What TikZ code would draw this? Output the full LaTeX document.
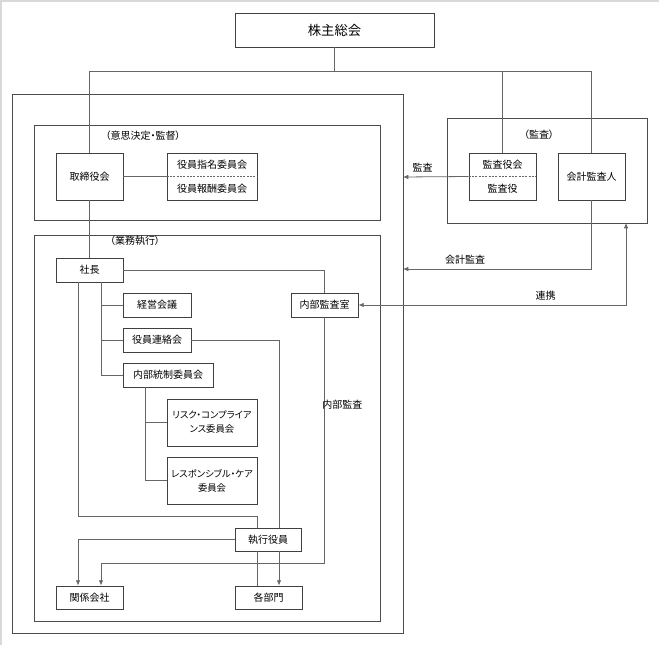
\documentclass[tikz,border=0pt]{standalone}
\usepackage{fontspec}
\setmainfont{Noto Sans CJK JP}[RawFeature=+palt]
\usetikzlibrary{arrows.meta,calc}
\begin{document}
\begin{tikzpicture}[x=0.75pt,y=-0.75pt,
  sm/.style={font=\fontsize{7.5}{10.5}\selectfont},
  box/.style={draw=black!75, line width=0.6pt, fill=white, inner sep=0pt, sm, align=center},
  wh/.style n args={2}{minimum width=#1*0.75pt, minimum height=#2*0.75pt},
  frame/.style={draw=black!70, line width=0.6pt},
  conn/.style={draw=black!60, line width=0.6pt},
  tip/.tip={Latex[length=4pt,width=3.4pt]},
  arr/.style={conn, -tip},
  lbl/.style={sm, inner sep=0pt}
]
\useasboundingbox (0,0) rectangle (659,645);
\draw[black!15, line width=1.2pt] (0.8,645) -- (0.8,0.8) -- (659,0.8);

% frames
\draw[frame] (12,94) rectangle (403,633);
\draw[frame] (34,125) rectangle (380,220);
\draw[frame] (34,235) rectangle (380,621);
\draw[frame] (447,118) rectangle (647,223);

% free coordinates
\coordinate (jL) at (89.5,71);
\coordinate (jR) at (591.5,71);
\coordinate (kansaTip) at (403,177);
\coordinate (kaikeiTip) at (403,269);
\coordinate (renkeiTip) at (626,223);

% nodes
\node[box, wh={199}{34}, font=\fontsize{10}{12}\selectfont] (kabu) at (334.5,30) {株主総会};
\node[box, wh={67}{47}] (tori) at (89.5,176.5) {取締役会};
\node[box, wh={90}{47}] (yakuin) at (212,176.5) {};
\node[box, wh={67}{47}] (kyk) at (502.5,176.5) {};
\node[box, wh={67}{47}] (kaikei) at (591.5,176.5) {会計監査人};
\node[box, wh={67}{24}] (shacho) at (89.5,270) {社長};
\node[box, wh={67}{24}] (naibu) at (324.5,305) {内部監査室};
\node[box, wh={68}{24}] (keiei) at (157,305) {経営会議};
\node[box, wh={68}{24}] (renraku) at (157,340) {役員連絡会};
\node[box, wh={90}{24}] (tosei) at (168,375) {内部統制委員会};
\node[box, wh={90}{47}, font=\fontsize{7}{10.5}\selectfont] (risk) at (212,422.5) {リスク・コンプライア\\ンス委員会};
\node[box, wh={90}{47}, font=\fontsize{7}{10.5}\selectfont] (resp) at (212,480.5) {レスポンシブル・ケア\\委員会};
\node[box, wh={66}{23}] (shikko) at (268,539.5) {執行役員};
\node[box, wh={67}{23}] (kankei) at (89.5,597.5) {関係会社};
\node[box, wh={67}{23}] (kakubu) at (268.5,597.5) {各部門};

% inner texts
\node[lbl] (yakuinA) at (212,165) {役員指名委員会};
\node[lbl] (yakuinB) at (212,189) {役員報酬委員会};
\node[lbl] (kykA) at (502.5,165) {監査役会};
\node[lbl] (kykB) at (502.5,189) {監査役};
\draw[conn, dash pattern=on 1.5pt off 1pt] (yakuin.west) -- (yakuin.east);
\draw[conn, dash pattern=on 1.5pt off 1pt] (kyk.west) -- (kyk.east);

% group labels
\node[lbl] (gIshi) at (143,136) {（意思決定・監督）};
\node[lbl] (gGyomu) at (135,241) {（業務執行）};
\node[lbl] (gKansa) at (539,135) {（監査）};

% connectors
\draw[conn] (kabu.south) -- (kabu.south |- jL);
\draw[conn] (tori.north) -- (jL) -- (jR) -- (kaikei.north);
\draw[conn] (kyk.north) -- (kyk.north |- jL);
\draw[conn] (tori.east) -- (yakuin.west);
\draw[conn] (tori.south) -- (shacho.north);
\draw[arr] (kyk.west) -- (kansaTip) node[lbl, pos=0.7, above=3pt] (lKansa) {監査};
\draw[arr] (kaikei.south) |- (kaikeiTip) node[lbl, pos=0.835, above=3pt] (lKaikei) {会計監査};
\draw[conn, tip-tip] (naibu.east) -| (renkeiTip) node[lbl, pos=0.35, above=3pt] (lRenkei) {連携};
\draw[conn] (shacho.east) -| (naibu.north);
\draw[conn] ($(shacho.south)+(11.5,0)$) |- (tosei.west);
\draw[conn] (keiei.west) -- ++(-22,0);
\draw[conn] (renraku.west) -- ++(-22,0);
\draw[conn] (renraku.east) -| ($(shikko.north)+(11,0)$);
\draw[conn] ($(tosei.south)+(-23,0)$) |- (resp.west);
\draw[conn] (risk.west) -- ++(-22,0);
\draw[conn] ($(shacho.south)+(-11.5,0)$) |- ($(shikko.north)+(-11,-11)$) -- ($(shikko.north)+(-11,0)$);
\draw[arr] (shikko.west) -| ($(kankei.north)+(-11.5,0)$);
\draw[arr] (naibu.south) -- ++(0,246) -| ($(kankei.north)+(11.5,0)$);
\node[lbl, anchor=west] (lNaibu) at (322,405) {内部監査};
\draw[conn] ($(shikko.south)+(-11,0)$) -- ($(kakubu.north)+(-11.5,0)$);
\draw[arr] ($(shikko.south)+(11,0)$) -- ($(kakubu.north)+(10.5,0)$);
\end{tikzpicture}
\end{document}
